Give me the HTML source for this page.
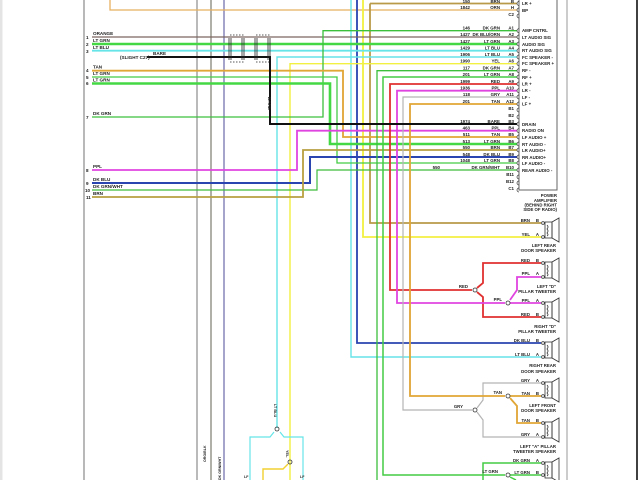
<!DOCTYPE html>
<html><head><meta charset="utf-8">
<style>
html,body{margin:0;padding:0;background:#fff;}
svg{display:block;}
text{font-family:"Liberation Sans",sans-serif;font-weight:bold;fill:#222;}
</style></head>
<body>
<svg width="640" height="480" viewBox="0 0 640 480" xmlns="http://www.w3.org/2000/svg">
<rect x="0" y="0" width="640" height="480" fill="#fff"/>
<rect x="0" y="0" width="2.5" height="480" fill="#e4e4e4"/>
<!-- full-height verticals -->
<line x1="84" y1="0" x2="84" y2="480" stroke="#8a8a8a" stroke-width="1.2"/>
<line x1="197" y1="0" x2="197" y2="480" stroke="#8c8c8c" stroke-width="1.2"/>
<line x1="211" y1="0" x2="211" y2="480" stroke="#7c7c70" stroke-width="1.2"/>
<line x1="224" y1="0" x2="224" y2="480" stroke="#6a68a8" stroke-width="1.2"/>
<line x1="567" y1="0" x2="567" y2="480" stroke="#999" stroke-width="1"/>
<line x1="637" y1="0" x2="637" y2="480" stroke="#111" stroke-width="1.6"/>

<g fill="none" stroke-linejoin="miter">
<!-- top orange -->
<polyline points="110,0 110,10 517,10" stroke="#e8b060" stroke-width="1.3"/>
<!-- brown LR+ -->
<polyline points="370,3.5 370,223 541,223" stroke="#b89a48" stroke-width="1.8"/>
<!-- yellow x363 -->
<polyline points="363,0 363,237 541,237" stroke="#f2f040" stroke-width="1.8"/>
<!-- blue x357 -->
<polyline points="357,0 357,343 541,343" stroke="#2a44b0" stroke-width="1.8"/>
<!-- cyan x351 -->
<polyline points="351,0 351,357 541,357" stroke="#66e4e8" stroke-width="1.4"/>
<polyline points="370,3.5 517,3.5" stroke="#b89a48" stroke-width="1.8"/>

<!-- direct rows -->
<line x1="92" y1="37" x2="517" y2="37" stroke="#7a6660" stroke-width="1.3"/>
<line x1="92" y1="44" x2="517" y2="44" stroke="#44d844" stroke-width="2.6"/>
<line x1="92" y1="50.7" x2="517" y2="50.7" stroke="#66e4e8" stroke-width="1.8"/>

<!-- cyan from 277 -->
<polyline points="517,57 277,57 277,428" stroke="#66e4e8" stroke-width="1.4"/>
<!-- yellow from 290 -->
<polyline points="517,63.7 290,63.7 290,480" stroke="#f2f040" stroke-width="1.4"/>

<!-- green A1 -->
<polyline points="92,117 323,117 323,30.7 517,30.7" stroke="#3cc03c" stroke-width="1.3"/>
<!-- row4 tan -->
<polyline points="92,70.7 343,70.7 343,137 517,137" stroke="#e0a636" stroke-width="1.8"/>
<!-- row5 thin green -->
<polyline points="92,77 337,77 337,163 517,163" stroke="#44cc44" stroke-width="1.3"/>
<!-- row6 thick green -->
<polyline points="92,83.5 330,83.5 330,144 517,144" stroke="#44d844" stroke-width="2.6"/>
<!-- row8 ppl -->
<polyline points="92,170 297,170 297,130.7 517,130.7" stroke="#e044e0" stroke-width="1.8"/>
<!-- row9 dk blu -->
<polyline points="92,183 310,183 310,157 517,157" stroke="#2a44b0" stroke-width="2"/>
<!-- row10 dk grn/wht -->
<polyline points="92,190 317,190 317,170 517,170" stroke="#3cbc3c" stroke-width="1.2"/>
<!-- row11 brn -->
<polyline points="92,197 303,197 303,150 517,150" stroke="#b8a040" stroke-width="1.8"/>

<!-- A7 / A8 greens -->
<polyline points="517,70.7 377,70.7 377,480" stroke="#3cc03c" stroke-width="1.3"/>
<polyline points="517,77 383,77 383,475 505,475" stroke="#44cc44" stroke-width="1.5"/>
<!-- red -->
<polyline points="517,84 390,84 390,290 472,290" stroke="#e03030" stroke-width="1.8"/>
<polyline points="477,288 483,283 483,263 541,263" stroke="#e03030" stroke-width="1.8"/>
<polyline points="477,292 483,297 483,317 541,317" stroke="#e03030" stroke-width="1.8"/>
<!-- magenta -->
<polyline points="517,90.7 397,90.7 397,303 505,303" stroke="#e044e0" stroke-width="1.8"/>
<polyline points="510,303 541,303" stroke="#e044e0" stroke-width="1.8"/>
<polyline points="510,300 517,290 517,277 541,277" stroke="#e044e0" stroke-width="1.8"/>
<!-- gray -->
<polyline points="517,97 403,97 403,410 472,410" stroke="#b4b4b4" stroke-width="1.2"/>
<polyline points="477,408 483,400 483,383 541,383" stroke="#b4b4b4" stroke-width="1.2"/>
<polyline points="477,412 483,420 483,437 541,437" stroke="#b4b4b4" stroke-width="1.2"/>
<!-- tan -->
<polyline points="517,104 410,104 410,396 505,396" stroke="#e0a636" stroke-width="1.8"/>
<polyline points="510,396 541,396" stroke="#e0a636" stroke-width="1.8"/>
<polyline points="510,398 517,406 517,423 541,423" stroke="#e0a636" stroke-width="1.8"/>
<!-- green bottom -->
<polyline points="510,475 541,475" stroke="#44cc44" stroke-width="1.5"/>
<polyline points="483,480 483,463 541,463" stroke="#44cc44" stroke-width="1.5"/>
<polyline points="510,477 516,480" stroke="#44cc44" stroke-width="1.5"/>

<!-- black BARE -->
<polyline points="147,57 270,57 270,124 517,124" stroke="#111" stroke-width="2"/>

<!-- bottom cyan/yellow -->
<polyline points="274,432 270,437 250,437 250,480" stroke="#66e4e8" stroke-width="1.2"/>
<polyline points="280,432 284,437 303,437 303,480" stroke="#66e4e8" stroke-width="1.2"/>
<polyline points="288,464 283,469 263,469 263,480" stroke="#f2d030" stroke-width="1.4"/>

<!-- connector box -->
<polyline points="519,0 519,190 557,190 557,0" stroke="#666" stroke-width="1"/>

<!-- shield symbols -->
<g stroke="#222" stroke-width="0.8">
<line x1="229" y1="38" x2="229" y2="60"/><line x1="231" y1="38" x2="231" y2="60"/>
<line x1="242" y1="38" x2="242" y2="60"/><line x1="244" y1="38" x2="244" y2="60"/>
<line x1="255" y1="38" x2="255" y2="60"/><line x1="257" y1="38" x2="257" y2="60"/>
<line x1="268" y1="38" x2="268" y2="60"/><line x1="270" y1="38" x2="270" y2="57"/>
<line x1="230" y1="35" x2="244" y2="35" stroke-dasharray="1.5,1.5"/>
<line x1="256" y1="35" x2="270" y2="35" stroke-dasharray="1.5,1.5"/>
<line x1="230" y1="62" x2="244" y2="62" stroke-dasharray="1.5,1.5"/>
<line x1="256" y1="62" x2="270" y2="62" stroke-dasharray="1.5,1.5"/>
</g>

<!-- splices -->
<g stroke="#333" stroke-width="0.8">
<circle cx="475" cy="290" r="2"/>
<circle cx="508" cy="303" r="2"/>
<circle cx="475" cy="410" r="2"/>
<circle cx="508" cy="396" r="2"/>
<circle cx="508" cy="475" r="2"/>
<circle cx="277" cy="429" r="2"/>
<circle cx="290" cy="462" r="2"/>
</g>

<!-- terminals -->
<g stroke="#333" stroke-width="0.7">
<path d="M519,1.5 A2,2 0 0 0 519,5.5"/><path d="M519,8 A2,2 0 0 0 519,12"/><path d="M519,14 A2,2 0 0 0 519,18"/>
<path d="M519,28.7 A2,2 0 0 0 519,32.7"/><path d="M519,35 A2,2 0 0 0 519,39"/><path d="M519,42 A2,2 0 0 0 519,46"/>
<path d="M519,48.7 A2,2 0 0 0 519,52.7"/><path d="M519,55 A2,2 0 0 0 519,59"/><path d="M519,61.7 A2,2 0 0 0 519,65.7"/>
<path d="M519,68.7 A2,2 0 0 0 519,72.7"/><path d="M519,75 A2,2 0 0 0 519,79"/><path d="M519,82 A2,2 0 0 0 519,86"/>
<path d="M519,88.7 A2,2 0 0 0 519,92.7"/><path d="M519,95 A2,2 0 0 0 519,99"/><path d="M519,102 A2,2 0 0 0 519,106"/>
<path d="M519,108 A2,2 0 0 0 519,112"/><path d="M519,115 A2,2 0 0 0 519,119"/><path d="M519,122 A2,2 0 0 0 519,126"/>
<path d="M519,128.7 A2,2 0 0 0 519,132.7"/><path d="M519,135 A2,2 0 0 0 519,139"/><path d="M519,142 A2,2 0 0 0 519,146"/>
<path d="M519,148 A2,2 0 0 0 519,152"/><path d="M519,155 A2,2 0 0 0 519,159"/><path d="M519,161 A2,2 0 0 0 519,165"/>
<path d="M519,168 A2,2 0 0 0 519,172"/><path d="M519,175 A2,2 0 0 0 519,179"/><path d="M519,181 A2,2 0 0 0 519,185"/>
<path d="M519,188 A2,2 0 0 0 519,192"/>
</g>

<!-- speakers -->
<g stroke="#333" stroke-width="0.8">
<g transform="translate(0,218)"><rect x="545" y="4" width="7" height="16"/><polygon points="552,4 559,0 559,24 552,20"/><circle cx="543" cy="5" r="1.4"/><circle cx="543" cy="19" r="1.4"/><path d="M547,7 q2,2 0,4 q2,2 0,4 q2,2 0,3"/></g>
<g transform="translate(0,258)"><rect x="545" y="4" width="7" height="16"/><polygon points="552,4 559,0 559,24 552,20"/><circle cx="543" cy="5" r="1.4"/><circle cx="543" cy="19" r="1.4"/><path d="M547,7 q2,2 0,4 q2,2 0,4 q2,2 0,3"/></g>
<g transform="translate(0,298)"><rect x="545" y="4" width="7" height="16"/><polygon points="552,4 559,0 559,24 552,20"/><circle cx="543" cy="5" r="1.4"/><circle cx="543" cy="19" r="1.4"/><path d="M547,7 q2,2 0,4 q2,2 0,4 q2,2 0,3"/></g>
<g transform="translate(0,338)"><rect x="545" y="4" width="7" height="16"/><polygon points="552,4 559,0 559,24 552,20"/><circle cx="543" cy="5" r="1.4"/><circle cx="543" cy="19" r="1.4"/><path d="M547,7 q2,2 0,4 q2,2 0,4 q2,2 0,3"/></g>
<g transform="translate(0,378)"><rect x="545" y="4" width="7" height="16"/><polygon points="552,4 559,0 559,24 552,20"/><circle cx="543" cy="5" r="1.4"/><circle cx="543" cy="18" r="1.4"/><path d="M547,7 q2,2 0,4 q2,2 0,4 q2,2 0,3"/></g>
<g transform="translate(0,418)"><rect x="545" y="4" width="7" height="16"/><polygon points="552,4 559,0 559,24 552,20"/><circle cx="543" cy="5" r="1.4"/><circle cx="543" cy="19" r="1.4"/><path d="M547,7 q2,2 0,4 q2,2 0,4 q2,2 0,3"/></g>
<g transform="translate(0,458)"><rect x="545" y="4" width="7" height="16"/><polygon points="552,4 559,0 559,24 552,20"/><circle cx="543" cy="5" r="1.4"/><circle cx="543" cy="17" r="1.4"/><path d="M547,7 q2,2 0,4 q2,2 0,4 q2,2 0,3"/></g>
</g>
</g>

<!-- left labels -->
<g font-size="4.6">
<text x="86" y="39">1</text><text x="93" y="35">ORANGE</text>
<text x="86" y="46">2</text><text x="93" y="42">LT GRN</text>
<text x="86" y="53">3</text><text x="93" y="49">LT BLU</text>
<text x="120" y="59">(SLIGHT C27)</text><text x="153" y="55">BARE</text>
<text x="86" y="72">4</text><text x="93" y="68.5">TAN</text>
<text x="86" y="79">5</text><text x="93" y="75">LT GRN</text>
<text x="86" y="85">6</text><text x="93" y="81.5">LT GRN</text>
<text x="86" y="119">7</text><text x="93" y="115">DK GRN</text>
<text x="86" y="172">8</text><text x="93" y="168">PPL</text>
<text x="86" y="185">9</text><text x="93" y="181">DK BLU</text>
<text x="85" y="192">10</text><text x="93" y="188">DK GRN/WHT</text>
<text x="86" y="199">11</text><text x="93" y="195">BRN</text>
<text transform="translate(268,97) rotate(90)">BARE</text>
<text transform="translate(206,462) rotate(-90)" font-size="3.6">ORG/BLK</text>
<text transform="translate(221,480) rotate(-90)" font-size="3.6">DK GRN/WHT</text>
<text transform="translate(274,404) rotate(90)" font-size="3.8">LT BLU</text>
<text transform="translate(286,450) rotate(90)" font-size="3.8">YEL</text>
<text x="244" y="478" font-size="3.6">LF</text>
<text x="300" y="478" font-size="3.6">LF</text>
</g>

<!-- connector labels -->
<g font-size="4.4">
<g text-anchor="end">
<text x="470" y="3">150</text><text x="500" y="3">BRN</text><text x="514" y="3">B</text>
<text x="470" y="9">1842</text><text x="500" y="9">ORN</text><text x="514" y="9">H</text>
<text x="514" y="16">C2</text>
<text x="470" y="29.5">146</text><text x="500" y="29.5">DK GRN</text><text x="514" y="29.5">A1</text>
<text x="470" y="36">1427</text><text x="500" y="36">DK BLU/ORN</text><text x="514" y="36">A2</text>
<text x="470" y="43">1427</text><text x="500" y="43">LT GRN</text><text x="514" y="43">A3</text>
<text x="470" y="49.5">1429</text><text x="500" y="49.5">LT BLU</text><text x="514" y="49.5">A4</text>
<text x="470" y="56">1906</text><text x="500" y="56">LT BLU</text><text x="514" y="56">A5</text>
<text x="470" y="62.5">1990</text><text x="500" y="62.5">YEL</text><text x="514" y="62.5">A6</text>
<text x="470" y="69.5">117</text><text x="500" y="69.5">DK GRN</text><text x="514" y="69.5">A7</text>
<text x="470" y="76">201</text><text x="500" y="76">LT GRN</text><text x="514" y="76">A8</text>
<text x="470" y="83">1999</text><text x="500" y="83">RED</text><text x="514" y="83">A9</text>
<text x="470" y="89.5">1936</text><text x="500" y="89.5">PPL</text><text x="514" y="89.5">A10</text>
<text x="470" y="96">118</text><text x="500" y="96">GRY</text><text x="514" y="96">A11</text>
<text x="470" y="103">201</text><text x="500" y="103">TAN</text><text x="514" y="103">A12</text>
<text x="514" y="110">B1</text><text x="514" y="117">B2</text>
<text x="470" y="123">1974</text><text x="500" y="123">BARE</text><text x="514" y="123">B3</text>
<text x="470" y="129.5">463</text><text x="500" y="129.5">PPL</text><text x="514" y="129.5">B4</text>
<text x="470" y="136">511</text><text x="500" y="136">TAN</text><text x="514" y="136">B5</text>
<text x="470" y="143">513</text><text x="500" y="143">LT GRN</text><text x="514" y="143">B6</text>
<text x="470" y="149">550</text><text x="500" y="149">BRN</text><text x="514" y="149">B7</text>
<text x="470" y="156">548</text><text x="500" y="156">DK BLU</text><text x="514" y="156">B9</text>
<text x="470" y="162">1048</text><text x="500" y="162">LT GRN</text><text x="514" y="162">B8</text>
<text x="440" y="169">550</text><text x="500" y="169">DK GRN/WHT</text><text x="514" y="169">B10</text>
<text x="514" y="176">B11</text><text x="514" y="183">B12</text><text x="514" y="190">C1</text>
</g>
<text x="522" y="5">LR +</text>
<text x="522" y="12">BP</text>
<text x="522" y="32">AMP CNTRL</text>
<text x="522" y="39">LT AUDIO SIG</text>
<text x="522" y="46">AUDIO SIG</text>
<text x="522" y="52">RT AUDIO SIG</text>
<text x="522" y="59">FC SPEAKER -</text>
<text x="522" y="65">FC SPEAKER +</text>
<text x="522" y="72">RF -</text>
<text x="522" y="79">RF +</text>
<text x="522" y="85.5">LR +</text>
<text x="522" y="92">LR -</text>
<text x="522" y="99">LF -</text>
<text x="522" y="105.5">LF +</text>
<text x="522" y="126">DRAIN</text>
<text x="522" y="132">RADIO ON</text>
<text x="522" y="139">LF AUDIO +</text>
<text x="522" y="146">RT AUDIO -</text>
<text x="522" y="152">LR AUDIO+</text>
<text x="522" y="159">RR AUDIO+</text>
<text x="522" y="165">LF AUDIO -</text>
<text x="522" y="172">REAR AUDIO -</text>
</g>

<!-- right-side component labels -->
<g font-size="4.3" text-anchor="end">
<text x="557" y="197">POWER</text>
<text x="557" y="202">AMPLIFIER</text>
<text x="557" y="206.5">(BEHIND RIGHT</text>
<text x="557" y="211">SIDE OF RADIO)</text>
<text x="556" y="247">LEFT REAR</text>
<text x="556" y="252">DOOR SPEAKER</text>
<text x="556" y="288">LEFT "D"</text>
<text x="556" y="293">PILLAR TWEETER</text>
<text x="556" y="328">RIGHT "D"</text>
<text x="556" y="333">PILLAR TWEETER</text>
<text x="556" y="367">RIGHT REAR</text>
<text x="556" y="373">DOOR SPEAKER</text>
<text x="556" y="407">LEFT FRONT</text>
<text x="556" y="412">DOOR SPEAKER</text>
<text x="556" y="448">LEFT "A" PILLAR</text>
<text x="556" y="453">TWEETER SPEAKER</text>
<text x="530" y="222">BRN</text><text x="539" y="222">B</text>
<text x="530" y="236">YEL</text><text x="539" y="236">A</text>
<text x="530" y="262">RED</text><text x="539" y="262">B</text>
<text x="530" y="275">PPL</text><text x="539" y="275">A</text>
<text x="530" y="302">PPL</text><text x="539" y="302">A</text>
<text x="530" y="316">RED</text><text x="539" y="316">B</text>
<text x="530" y="342">DK BLU</text><text x="539" y="342">B</text>
<text x="530" y="356">LT BLU</text><text x="539" y="356">A</text>
<text x="530" y="382">GRY</text><text x="539" y="382">A</text>
<text x="530" y="395">TAN</text><text x="539" y="395">B</text>
<text x="530" y="422">TAN</text><text x="539" y="422">B</text>
<text x="530" y="436">GRY</text><text x="539" y="436">A</text>
<text x="530" y="462">DK GRN</text><text x="539" y="462">A</text>
<text x="530" y="474">LT GRN</text><text x="539" y="474">B</text>
<text x="468" y="288">RED</text>
<text x="502" y="301">PPL</text>
<text x="463" y="408">GRY</text>
<text x="502" y="394">TAN</text>
<text x="498" y="473">LT GRN</text>
</g>
</svg>
</body></html>
